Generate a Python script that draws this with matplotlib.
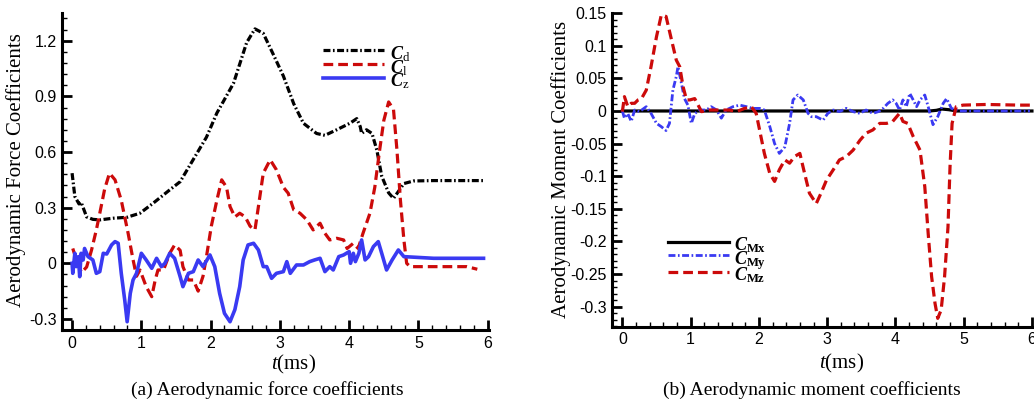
import matplotlib
matplotlib.use("Agg")
import matplotlib.pyplot as plt
from matplotlib.ticker import MultipleLocator, FixedLocator

plt.rcParams['lines.scale_dashes'] = False
plt.rcParams['mathtext.fontset'] = 'custom'
plt.rcParams['mathtext.it'] = 'Liberation Serif:italic:bold'
plt.rcParams['mathtext.cal'] = 'Liberation Serif:italic'
plt.rcParams['mathtext.rm'] = 'Liberation Serif'
plt.rcParams['mathtext.bf'] = 'Liberation Serif:bold'

# ---------------- data: (a) force coefficients ----------------
t_cd = [0.0, 0.04, 0.1, 0.13, 0.21, 0.3, 0.4, 0.59, 0.79, 0.98, 1.17, 1.41, 1.56, 1.75, 1.94,
        2.09, 2.33, 2.52, 2.64, 2.76, 2.9, 3.05, 3.2, 3.34, 3.53, 3.65, 3.82, 4.01, 4.11, 4.16,
        4.18, 4.25, 4.33, 4.4, 4.47, 4.57, 4.64, 4.71, 4.79, 4.93, 5.22, 5.94]
cd = [0.486, 0.36, 0.32, 0.33, 0.25, 0.237, 0.234, 0.243, 0.248, 0.27, 0.324, 0.396, 0.44, 0.56, 0.68,
      0.81, 0.97, 1.19, 1.264, 1.24, 1.13, 1.01, 0.86, 0.755, 0.70, 0.69, 0.72, 0.755, 0.78, 0.737,
      0.70, 0.72, 0.70, 0.61, 0.47, 0.38, 0.35, 0.387, 0.43, 0.444, 0.446, 0.446]

t_cl = [0.01, 0.06, 0.135, 0.21, 0.28, 0.35, 0.4, 0.47, 0.54, 0.62, 0.71, 0.81, 0.88, 0.93, 0.98,
        1.07, 1.15, 1.2, 1.24, 1.32, 1.41, 1.48, 1.56, 1.6, 1.68, 1.75, 1.82, 1.89, 1.94, 2.01,
        2.09, 2.16, 2.23, 2.28, 2.35, 2.42, 2.5, 2.57, 2.64, 2.69, 2.76, 2.86, 2.95, 3.05, 3.12,
        3.2, 3.29, 3.39, 3.48, 3.58, 3.65, 3.72, 3.82, 3.92, 3.97, 4.06, 4.13, 4.2, 4.3, 4.37,
        4.44, 4.5, 4.57, 4.64, 4.69, 4.74, 4.79, 4.83, 4.88, 5.22, 5.7, 5.85]
cl = [0.08, 0.02, -0.05, -0.02, 0.07, 0.18, 0.27, 0.40, 0.486, 0.45, 0.34, 0.16, 0.02, -0.07, -0.036,
      -0.126, -0.18, -0.09, -0.036, -0.036, 0.054, 0.099, 0.07, -0.018, -0.09, -0.09, -0.15, -0.07, 0.036, 0.2,
      0.34, 0.45, 0.41, 0.306, 0.25, 0.27, 0.25, 0.2, 0.18, 0.306, 0.486, 0.558, 0.504, 0.41, 0.378,
      0.288, 0.27, 0.234, 0.18, 0.216, 0.162, 0.126, 0.135, 0.126, 0.08, 0.108, 0.08, 0.162, 0.27, 0.41,
      0.61, 0.77, 0.87, 0.83, 0.61, 0.34, 0.126, 0.0, -0.018, -0.018, -0.018, -0.032]

t_cz = [0.0, 0.01, 0.04, 0.06, 0.09, 0.11, 0.13, 0.16, 0.18, 0.23, 0.3, 0.35, 0.4, 0.45, 0.5,
        0.57, 0.62, 0.665, 0.71, 0.76, 0.795, 0.84, 0.88, 0.93, 1.0, 1.07, 1.15, 1.22, 1.29, 1.34,
        1.41, 1.48, 1.56, 1.6, 1.68, 1.75, 1.82, 1.89, 1.99, 2.06, 2.13, 2.2, 2.28, 2.35, 2.42,
        2.47, 2.54, 2.62, 2.69, 2.76, 2.81, 2.88, 2.95, 3.05, 3.1, 3.15, 3.24, 3.34, 3.43, 3.5,
        3.58, 3.65, 3.72, 3.77, 3.85, 3.92, 4.0, 4.02, 4.06, 4.09, 4.14, 4.18, 4.23, 4.28, 4.35,
        4.42, 4.47, 4.54, 4.62, 4.71, 4.79, 5.22, 5.94]
cz = [0.0, -0.054, 0.054, -0.018, 0.036, -0.072, 0.054, 0.018, 0.08, 0.036, 0.018, -0.054, -0.045, 0.054, 0.05,
      0.099, 0.117, 0.108, -0.054, -0.198, -0.315, -0.162, -0.09, -0.054, 0.054, 0.018, -0.027, 0.027, -0.018, 0.0,
      0.054, 0.027, -0.072, -0.126, -0.054, -0.045, 0.018, -0.018, 0.045, -0.018, -0.162, -0.27, -0.315, -0.25, -0.126,
      0.018, 0.099, 0.108, 0.072, -0.018, -0.018, -0.081, -0.054, -0.045, 0.009, -0.054, -0.009, -0.009, 0.009, 0.018,
      0.027, -0.045, -0.018, -0.036, 0.036, 0.045, 0.063, 0.0, 0.054, 0.009, 0.054, 0.126, 0.018, 0.036, 0.09,
      0.117, 0.054, -0.036, 0.018, 0.072, 0.036, 0.027, 0.027]

# ---------------- data: (b) moment coefficients ----------------
t_cmx = [0.0, 1.0, 2.0, 3.0, 4.0, 4.5, 4.6, 4.68, 4.78, 4.9, 5.5, 6.0]
cmx = [0.0, 0.0, 0.0, 0.0, 0.0, 0.0, 0.001, 0.003, 0.002, 0.0, 0.0, 0.0]

t_cmy = [0.0, 0.03, 0.08, 0.13, 0.18, 0.25, 0.35, 0.42, 0.5, 0.57, 0.64, 0.69, 0.74, 0.79, 0.815,
         0.86, 0.91, 0.96, 1.01, 1.06, 1.13, 1.23, 1.3, 1.38, 1.45, 1.52, 1.62, 1.72, 1.82, 1.91,
         2.01, 2.08, 2.16, 2.23, 2.3, 2.38, 2.45, 2.5, 2.57, 2.65, 2.72, 2.77, 2.84, 2.94, 3.01,
         3.09, 3.18, 3.28, 3.38, 3.48, 3.57, 3.67, 3.75, 3.82, 3.89, 3.96, 4.01, 4.06, 4.11, 4.16,
         4.21, 4.26, 4.31, 4.36, 4.43, 4.48, 4.55, 4.62, 4.7, 4.75, 4.82, 4.94, 5.97]
cmy = [0.0, -0.011, -0.004, -0.016, 0.0015, -0.001, 0.0066, -0.0036, -0.019, -0.024, -0.03, -0.019, 0.032, 0.053, 0.068,
       0.045, 0.019, 0.009, -0.019, -0.004, 0.0015, 0.0015, 0.0066, 0.0015, -0.011, 0.0015, 0.0066, 0.009, 0.0066, 0.004,
       0.004, 0.0015, -0.024, -0.05, -0.065, -0.055, -0.019, 0.017, 0.0245, 0.017, -0.0036, -0.0087, -0.0087, -0.014, -0.0036,
       0.0015, -0.001, 0.004, -0.001, -0.0036, 0.0015, -0.0036, -0.001, 0.004, 0.0118, 0.017, 0.0118, 0.0015, 0.017, 0.0066,
       0.027, 0.017, 0.0066, 0.017, 0.0245, 0.0066, -0.021, -0.0087, 0.0118, 0.019, 0.004, 0.0, 0.0]

t_cmz = [0.0, 0.03, 0.08, 0.13, 0.18, 0.23, 0.28, 0.35, 0.42, 0.5, 0.57, 0.64, 0.72, 0.79, 0.84,
         0.89, 0.94, 0.99, 1.06, 1.16, 1.28, 1.43, 1.57, 1.67, 1.79, 1.89, 1.96, 2.01, 2.08, 2.16,
         2.23, 2.3, 2.38, 2.45, 2.52, 2.6, 2.67, 2.74, 2.84, 2.91, 2.99, 3.09, 3.18, 3.28, 3.38,
         3.48, 3.57, 3.67, 3.77, 3.87, 3.96, 4.06, 4.11, 4.18, 4.26, 4.36, 4.43, 4.48, 4.53, 4.58,
         4.62, 4.67, 4.72, 4.77, 4.8, 4.83, 4.89, 4.99, 5.33, 5.82, 6.0]
cmz = [-0.001, 0.022, 0.0066, 0.0118, 0.0118, 0.017, 0.019, 0.032, 0.068, 0.114, 0.147, 0.145, 0.109, 0.078, 0.068,
       0.037, 0.017, 0.017, 0.019, -0.001, 0.0015, 0.0015, 0.0015, -0.001, 0.004, 0.0066, -0.0036, -0.029, -0.065, -0.096,
       -0.108, -0.09, -0.075, -0.08, -0.07, -0.065, -0.096, -0.126, -0.142, -0.126, -0.106, -0.09, -0.075, -0.07, -0.06,
       -0.045, -0.034, -0.029, -0.019, -0.019, -0.016, -0.0036, -0.016, -0.019, -0.039, -0.06, -0.116, -0.188, -0.254, -0.295,
       -0.318, -0.305, -0.254, -0.178, -0.085, -0.019, 0.0066, 0.009, 0.01, 0.009, 0.009]

x_ticks = [0, 1, 2, 3, 4, 5, 6]
x_ticklabels = ['0', '1', '2', '3', '4', '5', '6']
yA_ticks = [-0.3, 0.0, 0.3, 0.6, 0.9, 1.2]
yA_ticklabels = ['-0.3', '0', '0.3', '0.6', '0.9', '1.2']
yB_ticks = [-0.3, -0.25, -0.2, -0.15, -0.1, -0.05, 0.0, 0.05, 0.1, 0.15]
yB_ticklabels = ['-0.3', '-0.25', '-0.2', '-0.15', '-0.1', '-0.05', '0', '0.05', '0.1', '0.15']

# ---------------- styling ----------------
SERIF = 'Liberation Serif'
SANS = 'Liberation Sans'
RED = '#cc0a0a'
BLUE = '#3a3af2'
DASHDOT = (0, (5.0, 1.8, 1.2, 1.8))
DASHED = (0, (7.0, 3.6))

fig = plt.figure(figsize=(10.34, 4.04), dpi=100)
axA = fig.add_axes([0.060, 0.183, 0.413, 0.785])
axB = fig.add_axes([0.592, 0.191, 0.408, 0.778])


def style_axes(ax, yticks, yticklabels, ylim, yminor, xlim):
    ax.set_xlim(*xlim)
    ax.set_ylim(*ylim)
    for s in ['top', 'right']:
        ax.spines[s].set_visible(False)
    for s in ['left', 'bottom']:
        ax.spines[s].set_linewidth(2.2)
    ax.xaxis.set_major_locator(FixedLocator(x_ticks))
    ax.set_xticklabels(x_ticklabels)
    ax.xaxis.set_minor_locator(MultipleLocator(0.2))
    ax.yaxis.set_major_locator(FixedLocator(yticks))
    ax.set_yticklabels(yticklabels)
    ax.yaxis.set_minor_locator(MultipleLocator(yminor))
    ax.tick_params(which='major', direction='in', length=7, width=2.0,
                   labelsize=11.5, pad=4, top=False, right=False)
    ax.tick_params(which='minor', direction='in', length=3.5, width=1.0,
                   top=False, right=False)
    for lab in ax.get_xticklabels() + ax.get_yticklabels():
        lab.set_fontfamily(SANS)


LEG_KW = dict(loc='upper left', frameon=False, handlelength=3.4, handletextpad=0.3,
              handleheight=1.5, labelspacing=-0.45, borderpad=0,
              prop={'family': SERIF, 'size': 13})

# ---- (a)
axA.plot(t_cd, cd, color='black', lw=2.3, linestyle=DASHDOT, label=r'$\mathit{C}_{\mathrm{d}}$')
axA.plot(t_cl, cl, color=RED, lw=2.3, linestyle=DASHED, label=r'$\mathit{C}_{\mathrm{l}}$')
axA.plot(t_cz, cz, color=BLUE, lw=2.6, linestyle='-', label=r'$\mathit{C}_{\mathrm{z}}$')
style_axes(axA, yA_ticks, yA_ticklabels, (-0.36, 1.35), 0.06, (-0.145, 6.02))
axA.set_ylabel('Aerodynamic Force Coefficients', fontfamily=SERIF, fontsize=15)
axA.yaxis.set_label_coords(-0.084, 0.505)
axA.set_xlabel(r'$\mathcal{t}$(ms)', fontfamily=SERIF, fontsize=15)
axA.xaxis.set_label_coords(0.543, -0.073)
axA.legend(bbox_to_anchor=(0.59, 0.937), **LEG_KW)

# ---- (b)
axB.plot(t_cmx, cmx, color='black', lw=2.3, linestyle='-', label=r'$\mathit{C}_{\mathbf{Mx}}$')
axB.plot(t_cmy, cmy, color=BLUE, lw=2.0, linestyle=DASHDOT, label=r'$\mathit{C}_{\mathbf{My}}$')
axB.plot(t_cmz, cmz, color=RED, lw=2.3, linestyle=DASHED, label=r'$\mathit{C}_{\mathbf{Mz}}$')
style_axes(axB, yB_ticks, yB_ticklabels, (-0.331, 0.151), 0.01, (-0.15, 6.03))
axB.set_ylabel('Aerodynamic Moment Coefficients', fontfamily=SERIF, fontsize=15)
axB.yaxis.set_label_coords(-0.097, 0.502)
axB.set_xlabel(r'$\mathcal{t}$(ms)', fontfamily=SERIF, fontsize=15)
axB.xaxis.set_label_coords(0.545, -0.08)
axB.legend(bbox_to_anchor=(0.11, 0.327), **LEG_KW)

fig.text(267 / 1034, 1 - 390 / 404, '(a) Aerodynamic force coefficients',
         fontfamily=SERIF, fontsize=14, ha='center', va='center')
fig.text(812 / 1034, 1 - 390 / 404, '(b) Aerodynamic moment coefficients',
         fontfamily=SERIF, fontsize=14, ha='center', va='center')

fig.savefig('out.png', dpi=100)
